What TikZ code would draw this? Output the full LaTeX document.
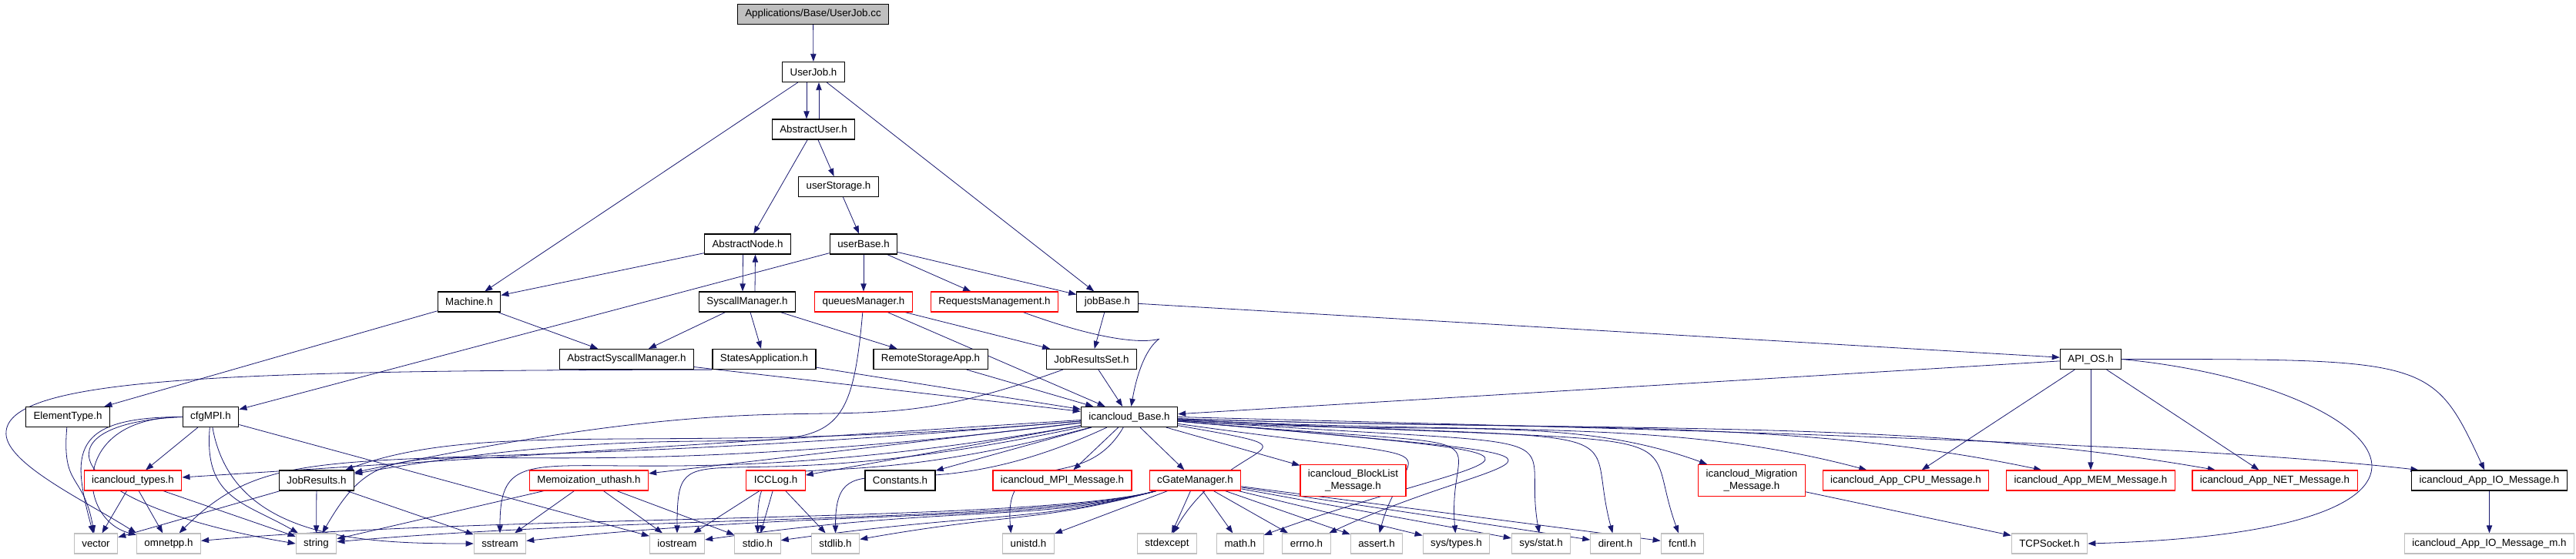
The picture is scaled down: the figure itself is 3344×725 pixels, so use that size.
\documentclass[tikz,border=0pt]{standalone}
\usepackage{fontspec}
\setmainfont{Liberation Sans}
\usetikzlibrary{arrows.meta,backgrounds}
\definecolor{edgeblue}{HTML}{191970}
\definecolor{sysgray}{HTML}{BFBFBF}

\begin{document}
\begin{tikzpicture}[x=0.75pt, y=0.75pt,
    hdr/.style={draw=black, line width=0.9pt, fill=white, inner xsep=7.5pt, inner ysep=0pt,
        minimum height=19.5pt, align=center, font=\fontsize{10}{11.5}\selectfont},
    hdrred/.style={hdr, draw=red},
    hdrsys/.style={hdr, draw=sysgray},
    dep/.style={edgeblue, line width=0.6pt, -{Triangle[length=7.5pt,width=5.5pt]}}]

    % 行の位置
    \pgfmathsetmacro{\yA}{-18.5}
    \pgfmathsetmacro{\yB}{-93.5}
    \pgfmathsetmacro{\yC}{-168}
    \pgfmathsetmacro{\yD}{-242.5}
    \pgfmathsetmacro{\yE}{-317}
    \pgfmathsetmacro{\yF}{-392}
    \pgfmathsetmacro{\yG}{-466.5}
    \pgfmathsetmacro{\yH}{-541.5}
    \pgfmathsetmacro{\yI}{-624}
    \pgfmathsetmacro{\yJ}{-706}

    \useasboundingbox (0,0) rectangle (3344,-725);

    % ヘッダのノード
    \node[hdr, fill=sysgray] (usrjobcc) at (1055.5,\yA) {Applications/Base/UserJob.cc};
    \node[hdr] (userjob) at (1056,\yB) {UserJob.h};
    \node[hdr] (absuser) at (1056,\yC) {AbstractUser.h};
    \node[hdr] (userstor) at (1088.5,\yD) {userStorage.h};
    \node[hdr] (absnode) at (970.5,\yE) {AbstractNode.h};
    \node[hdr] (userbase) at (1121,\yE) {userBase.h};
    \node[hdr] (machine) at (609,\yF) {Machine.h};
    \node[hdr] (syscall) at (970,\yF) {SyscallManager.h};
    \node[hdrred] (queues) at (1121,\yF) {queuesManager.h};
    \node[hdrred] (requests) at (1291,\yF) {RequestsManagement.h};
    \node[hdr] (jobbase) at (1437.5,\yF) {jobBase.h};
    \node[hdr] (abssys) at (813.5,\yG) {AbstractSyscallManager.h};
    \node[hdr] (states) at (992,\yG) {StatesApplication.h};
    \node[hdr] (remote) at (1208,\yG) {RemoteStorageApp.h};
    \node[hdr] (jrset) at (1417,\yG) {JobResultsSet.h};
    \node[hdr] (apios) at (2714,\yG) {API\_OS.h};
    \node[hdr] (elemtype) at (88,\yH) {ElementType.h};
    \node[hdr] (cfgmpi) at (273.5,\yH) {cfgMPI.h};
    \node[hdr] (base) at (1466,\yH) {icancloud\_Base.h};
    \node[hdrred] (types) at (172.5,\yI) {icancloud\_types.h};
    \node[hdr] (jobres) at (411,\yI) {JobResults.h};
    \node[hdrred] (memo) at (764.5,\yI) {Memoization\_uthash.h};
    \node[hdrred] (icclog) at (1007,\yI) {ICCLog.h};
    \node[hdr] (consts) at (1168.5,\yI) {Constants.h};
    \node[hdrred] (mpimsg) at (1379,\yI) {icancloud\_MPI\_Message.h};
    \node[hdrred] (cgate) at (1551.5,\yI) {cGateManager.h};
    \node[hdrred, minimum height=30.75pt] (blockmsg) at (1756.5,\yI) {icancloud\_BlockList\\\_Message.h};
    \node[hdrred, minimum height=30.75pt] (migmsg) at (2274,\yI) {icancloud\_Migration\\\_Message.h};
    \node[hdrred] (cpumsg) at (2474,\yI) {icancloud\_App\_CPU\_Message.h};
    \node[hdrred] (memmsg) at (2714,\yI) {icancloud\_App\_MEM\_Message.h};
    \node[hdrred] (netmsg) at (2953,\yI) {icancloud\_App\_NET\_Message.h};
    \node[hdr] (iomsg) at (3231.5,\yI) {icancloud\_App\_IO\_Message.h};

    % システムヘッダ
    \node[hdrsys] (vector) at (124.5,\yJ) {vector};
    \node[hdrsys] (omnetpp) at (219,\yJ) {omnetpp.h};
    \node[hdrsys] (string) at (410.5,\yJ) {string};
    \node[hdrsys] (sstream) at (649,\yJ) {sstream};
    \node[hdrsys] (iostream) at (879,\yJ) {iostream};
    \node[hdrsys] (stdio) at (983.5,\yJ) {stdio.h};
    \node[hdrsys] (stdlib) at (1084.5,\yJ) {stdlib.h};
    \node[hdrsys] (unistd) at (1335,\yJ) {unistd.h};
    \node[hdrsys] (stdexcept) at (1515,\yJ) {stdexcept};
    \node[hdrsys] (math) at (1610,\yJ) {math.h};
    \node[hdrsys] (errno) at (1696,\yJ) {errno.h};
    \node[hdrsys] (assert) at (1787,\yJ) {assert.h};
    \node[hdrsys] (systypes) at (1890.5,\yJ) {sys/types.h};
    \node[hdrsys] (sysstat) at (2000.5,\yJ) {sys/stat.h};
    \node[hdrsys] (dirent) at (2097,\yJ) {dirent.h};
    \node[hdrsys] (fcntl) at (2184,\yJ) {fcntl.h};
    \node[hdrsys] (tcpsock) at (2660.5,\yJ) {TCPSocket.h};
    \node[hdrsys] (iomsgm) at (3231.5,\yJ) {icancloud\_App\_IO\_Message\_m.h};

    \begin{scope}[on background layer]
        % 上部の依存
        \draw[dep] (usrjobcc) -- (userjob);
        \draw[dep] ([xshift=-6.75pt]userjob.south) -- ([xshift=-6.75pt]absuser.north);
        \draw[dep] ([xshift=5.25pt]absuser.north) -- ([xshift=5.25pt]userjob.south);
        \draw[dep] (userjob) -- (machine);
        \draw[dep] (userjob) -- (jobbase);
        \draw[dep] (absuser) -- (userstor);
        \draw[dep] (absuser) -- (absnode);
        \draw[dep] (userstor) -- (userbase);
        \draw[dep] (absnode) -- (machine);
        \draw[dep] ([xshift=-4.5pt]absnode.south) -- ([xshift=-4.5pt]syscall.north);
        \draw[dep] ([xshift=7.5pt]syscall.north) -- ([xshift=7.5pt]absnode.south);
        \draw[dep] (userbase) -- (queues);
        \draw[dep] (userbase) -- (requests);
        \draw[dep] (userbase) -- (jobbase);
        \draw[dep] (userbase) -- (cfgmpi);
        \draw[dep] (machine) -- (elemtype);
        \draw[dep] (machine) -- (abssys);
        \draw[dep] (syscall) -- (abssys);
        \draw[dep] (syscall) -- (states);
        \draw[dep] (syscall) -- (remote);
        \draw[dep] (queues) to[out=-95, in=10, out distance=200, in distance=450] (jobres);
        \draw[dep] (queues) -- (jrset);
        \draw[dep] (queues) -- (base);
        \draw[dep] (requests) to[out=-20, in=80, out distance=200, in distance=120] (base);
        \draw[dep] (jobbase) -- (jrset);
        \draw[dep] (jobbase) -- (apios);

        % 中段
        \draw[dep] (abssys) -- (base);
        \draw[dep] (states) -- (base);
        \draw[dep] (states.south west) .. controls (300,-481) and (15,-490) .. (8,-560)
            .. controls (3,-600) and (110,-650) .. (omnetpp.north west);
        \draw[dep] (remote) -- (base);
        \draw[dep] (jrset) -- (base);
        \draw[dep] (jrset) to[out=-160, in=12, out distance=250, in distance=500] (jobres);
        \draw[dep] (apios) -- (base);
        \draw[dep] (apios) -- (cpumsg);
        \draw[dep] (apios) -- (memmsg);
        \draw[dep] (apios) -- (netmsg);
        \draw[dep] (apios) to[out=0, in=115, out distance=300, in distance=120] (iomsg);
        \draw[dep] (apios.east) .. controls (3100,-500) and (3280,-690) .. (tcpsock.east);

        % 左側
        \draw[dep] (elemtype) to[out=-95, in=100, out distance=60, in distance=60] (vector);
        \draw[dep] (cfgmpi) -- (types);
        \draw[dep] (cfgmpi) to[out=180, in=105, out distance=110, in distance=80] (vector);
        \draw[dep] (cfgmpi) to[out=180, in=165, out distance=110, in distance=60] (omnetpp);
        \draw[dep] (cfgmpi.west) .. controls (40,-550) and (80,-655) .. (string.west);
        \draw[dep] (cfgmpi) to[out=-95, in=150, out distance=70, in distance=60] (string);
        \draw[dep] (cfgmpi) to[out=-80, in=180, out distance=110, in distance=110] (sstream);
        \draw[dep] (cfgmpi) -- (iostream);
        \draw[dep] (types) -- (vector);
        \draw[dep] (types) -- (omnetpp);
        \draw[dep] (types) -- (string);
        \draw[dep] (jobres) -- (vector);
        \draw[dep] (jobres) -- (string);
        \draw[dep] (jobres) -- (sstream);
        \draw[dep] (memo) -- (string);
        \draw[dep] (memo) -- (sstream);
        \draw[dep] (memo) -- (iostream);
        \draw[dep] (memo) -- (stdio);
        \draw[dep] (icclog) -- (iostream);
        \draw[dep] (icclog) -- (stdio);
        \draw[dep] (icclog) -- (stdlib);

        % icancloud_Base.h から
        \draw[dep] (base) -- (types);
        \draw[dep] (base) to[out=185, in=20, out distance=400, in distance=150] (jobres);
        \draw[dep] (base) -- (memo);
        \draw[dep] (base) -- (icclog);
        \draw[dep] (base) -- (consts);
        \draw[dep] (base) -- (mpimsg);
        \draw[dep] (base) -- (cgate);
        \draw[dep] (base) -- (blockmsg);
        \draw[dep] (base) to[out=185, in=45, out distance=700, in distance=150] (omnetpp);
        \draw[dep] (base) to[out=187, in=60, out distance=650, in distance=150] (string);
        \draw[dep] (base) to[out=190, in=90, out distance=500, in distance=120] (sstream);
        \draw[dep] (base) to[out=192, in=90, out distance=380, in distance=110] (iostream);
        \draw[dep] (base) to[out=195, in=90, out distance=300, in distance=100] (stdio);
        \draw[dep] (base) to[out=205, in=90, out distance=220, in distance=100] (stdlib);
        \draw[dep] (base) to[out=-120, in=95, out distance=80, in distance=90] ([xshift=-17pt]unistd.north);
        \draw[dep] (base) to[out=-10, in=60, out distance=160, in distance=110] (stdexcept);
        \draw[dep] (base) to[out=-5, in=20, out distance=450, in distance=250] (math);
        \draw[dep] (base) to[out=-5, in=25, out distance=480, in distance=200] (errno);
        \draw[dep] (base) to[out=-8, in=75, out distance=300, in distance=100] (assert);
        \draw[dep] (base) to[out=-5, in=95, out distance=350, in distance=110] (systypes);
        \draw[dep] (base) to[out=-4, in=100, out distance=420, in distance=110] (sysstat);
        \draw[dep] (base) to[out=-3, in=105, out distance=480, in distance=120] (dirent);
        \draw[dep] (base) to[out=-3, in=110, out distance=540, in distance=120] (fcntl);
        \draw[dep] (base) to[out=-4, in=160, out distance=250, in distance=150] (migmsg);
        \draw[dep] (base) to[out=-3, in=165, out distance=300, in distance=200] (cpumsg);
        \draw[dep] (base) to[out=-2, in=168, out distance=350, in distance=250] (memmsg);
        \draw[dep] (base) to[out=-2, in=170, out distance=400, in distance=300] (netmsg);
        \draw[dep] (base.east) .. controls +(450,-12) and +(-350,40) .. ([xshift=7pt]iomsg.north west);

        % cGateManager.h から
        \draw[dep] (cgate) -- (unistd);
        \draw[dep] (cgate) -- (stdexcept);
        \draw[dep] (cgate) -- (math);
        \draw[dep] (cgate) -- (errno);
        \draw[dep] (cgate) -- (assert);
        \draw[dep] (cgate) -- (systypes);
        \draw[dep] (cgate) -- (sysstat);
        \draw[dep] (cgate) -- (dirent);
        \draw[dep] (cgate) -- (fcntl);
        \draw[dep] (cgate) to[out=195, in=10, out distance=120, in distance=150] (stdlib);
        \draw[dep] (cgate) to[out=195, in=8, out distance=120, in distance=200] (stdio);
        \draw[dep] (cgate) to[out=195, in=8, out distance=120, in distance=250] (iostream);
        \draw[dep] (cgate) to[out=195, in=6, out distance=120, in distance=300] (sstream);
        \draw[dep] (cgate) to[out=195, in=5, out distance=120, in distance=300] (string);
        \draw[dep] (cgate) to[out=195, in=5, out distance=120, in distance=300] (omnetpp);

        % 右側
        \draw[dep] (migmsg) -- (tcpsock);
        \draw[dep] (iomsg) -- (iomsgm);
    \end{scope}

\end{tikzpicture}
\end{document}
